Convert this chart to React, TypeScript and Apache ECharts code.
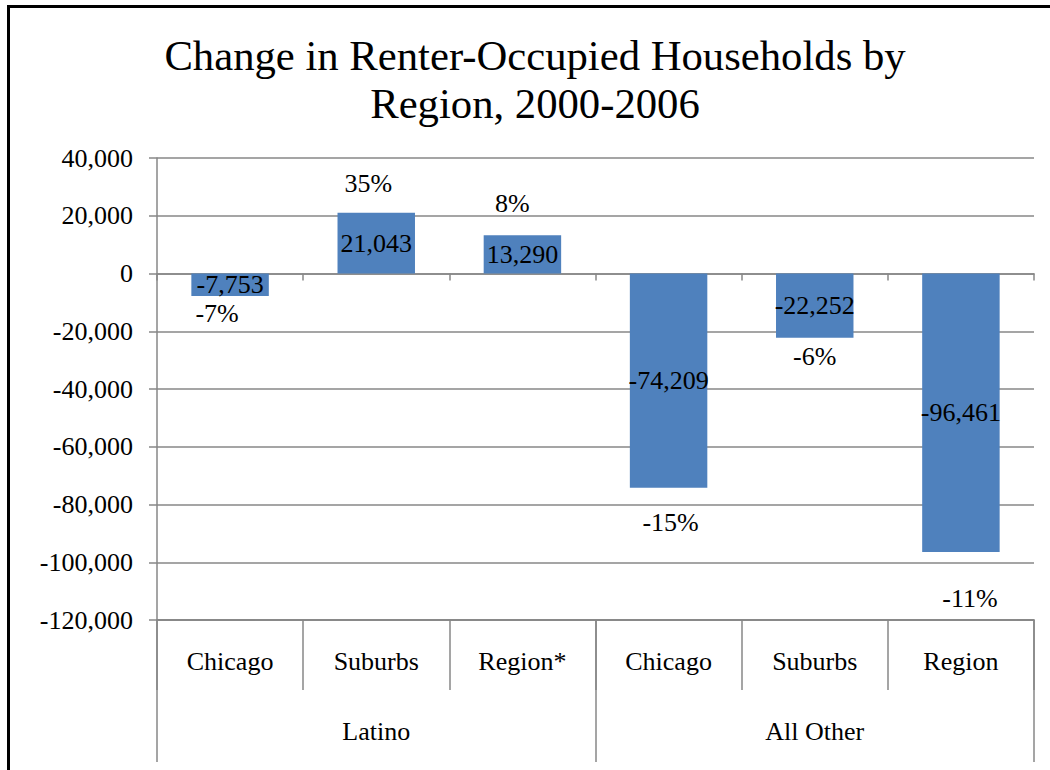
import React, { useEffect, useRef } from "react";
import * as echarts from "echarts";

const titleLines = ["Change in Renter-Occupied Households by", "Region, 2000-2006"];
const categories = ["Chicago", "Suburbs", "Region*", "Chicago", "Suburbs", "Region"];
const groups = ["Latino", "All Other"];
const changeValues = [-7753, 21043, 13290, -74209, -22252, -96461];
const percentChange = ["-7%", "35%", "8%", "-15%", "-6%", "-11%"];
const yMin = -120000;
const yMax = 40000;
const yInterval = 20000;

// label placement tweaks (style only)
const pctLabelDistance = [5, 16, 19, 22, 6, 33];
const pctLabelShiftX = [-13, -8, -10, 2, 0, 9];

const FONT = "'Liberation Serif', 'Times New Roman', serif";
const GRID_COLOR = "#878787";
const BAR_COLOR = "#4F81BD";

export default function App() {
  const ref = useRef<HTMLDivElement>(null);
  useEffect(() => {
    if (!ref.current) return;
    const chart = echarts.init(ref.current, null, { renderer: "svg" });
    const fmt = (v: number) => {
      const s = Math.abs(v).toString().replace(/\B(?=(\d{3})+(?!\d))/g, ",");
      return (v < 0 ? "-" : "") + s;
    };
    chart.setOption({
      animation: false,
      backgroundColor: "#ffffff",
      graphic: [
        {
          type: "rect",
          shape: { x: 8.5, y: 6.5, width: 1200, height: 1000 },
          style: { fill: "none", stroke: "#000", lineWidth: 3 },
          silent: true,
        },
        {
          type: "text",
          x: 535,
          y: 55,
          style: {
            text: titleLines[0],
            textAlign: "center",
            textVerticalAlign: "middle",
            fontFamily: FONT,
            fontSize: 42.7,
            fill: "#000",
          },
        },
        {
          type: "text",
          x: 535,
          y: 103,
          style: {
            text: titleLines[1],
            textAlign: "center",
            textVerticalAlign: "middle",
            fontFamily: FONT,
            fontSize: 42.7,
            fill: "#000",
          },
        },
      ],
      grid: { left: 157, right: 16, top: 158, bottom: 150, containLabel: false },
      xAxis: [
        {
          type: "category",
          data: categories,
          position: "bottom",
          axisLine: { show: true, onZero: false, lineStyle: { color: GRID_COLOR, width: 1.5 } },
          axisTick: { show: true, length: 70, interval: 0, lineStyle: { color: GRID_COLOR, width: 1.5 } },
          axisLabel: { margin: 28, color: "#000", fontFamily: FONT, fontSize: 26, interval: 0 },
          splitLine: { show: false },
        },
        {
          type: "category",
          data: groups,
          position: "bottom",
          axisLine: { show: true, onZero: false, lineStyle: { color: GRID_COLOR, width: 1.5 } },
          axisTick: { show: true, length: 142, interval: 0, lineStyle: { color: GRID_COLOR, width: 1.5 } },
          axisLabel: { margin: 98, color: "#000", fontFamily: FONT, fontSize: 26, interval: 0 },
          splitLine: { show: false },
        },
        {
          type: "category",
          data: categories,
          position: "bottom",
          axisLine: { show: true, onZero: true, lineStyle: { color: GRID_COLOR, width: 1.5 } },
          axisTick: { show: true, length: 7, interval: 0, lineStyle: { color: GRID_COLOR, width: 1.5 } },
          axisLabel: { show: false },
          splitLine: { show: false },
        },
      ],
      yAxis: {
        type: "value",
        min: yMin,
        max: yMax,
        interval: yInterval,
        axisLine: { show: true, lineStyle: { color: GRID_COLOR, width: 1.5 } },
        axisTick: { show: true, length: 8, lineStyle: { color: GRID_COLOR, width: 1.5 } },
        axisLabel: {
          margin: 24,
          color: "#000",
          fontFamily: FONT,
          fontSize: 26,
          formatter: (v: number) => fmt(v),
        },
        splitLine: { show: true, lineStyle: { color: GRID_COLOR, width: 1.5 } },
      },
      series: [
        {
          type: "bar",
          xAxisIndex: 0,
          data: changeValues,
          barCategoryGap: "47%",
          itemStyle: { color: BAR_COLOR },
          label: {
            show: true,
            position: "inside",
            color: "#000",
            fontFamily: FONT,
            fontSize: 26,
            formatter: (p: any) => fmt(p.value),
          },
          z: 2,
        },
        {
          type: "bar",
          xAxisIndex: 0,
          barGap: "-100%",
          barCategoryGap: "47%",
          data: changeValues.map((v, i) => ({
            value: v,
            label: {
              position: v >= 0 ? "top" : "bottom",
              distance: pctLabelDistance[i],
              offset: [pctLabelShiftX[i], 0],
            },
          })),
          itemStyle: { color: "rgba(0,0,0,0)" },
          label: {
            show: true,
            color: "#000",
            fontFamily: FONT,
            fontSize: 26,
            formatter: (p: any) => percentChange[p.dataIndex],
          },
          z: 3,
          silent: true,
        },
      ],
    });
    return () => chart.dispose();
  }, []);
  return (
    <div
      ref={ref}
      style={{ position: "fixed", left: 0, top: 0, width: 1050, height: 770, background: "#fff" }}
    />
  );
}
